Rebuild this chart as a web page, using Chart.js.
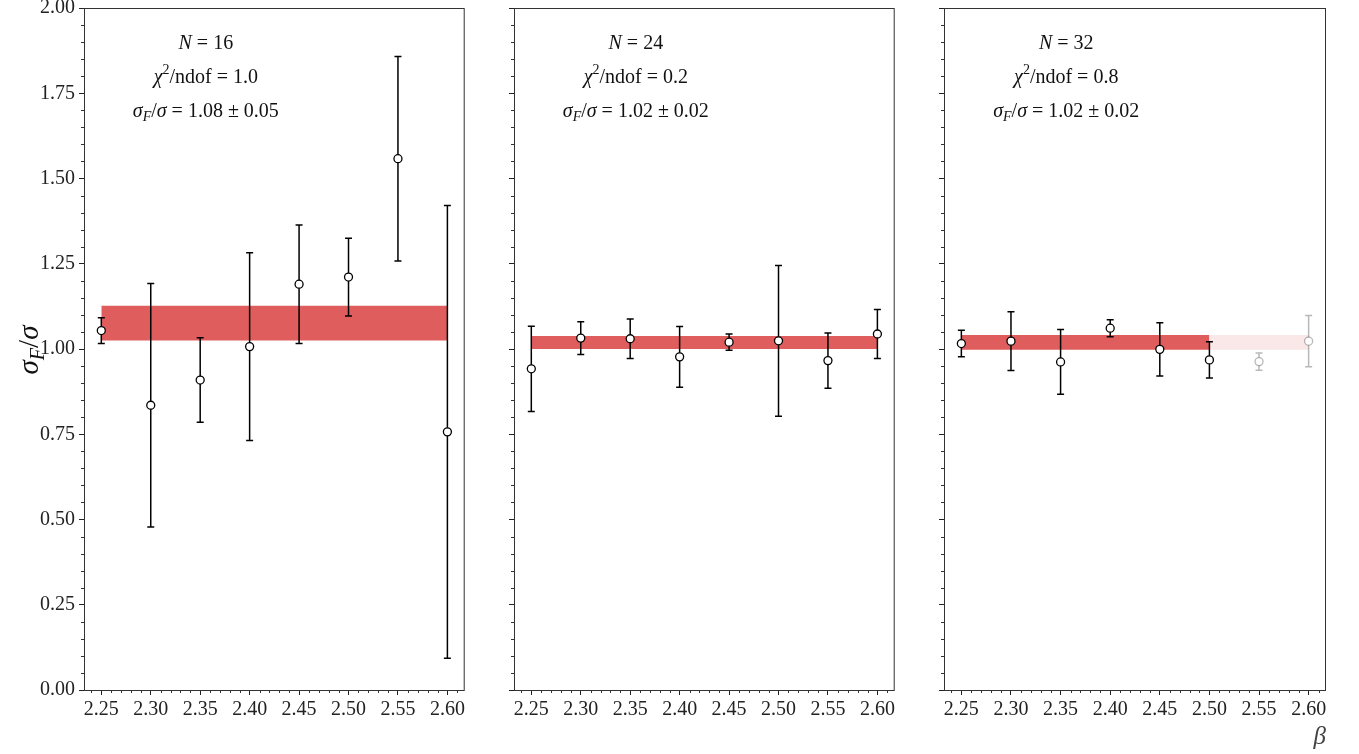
<!DOCTYPE html>
<html>
<head>
<meta charset="utf-8">
<script src="https://cdn.jsdelivr.net/npm/chart.js@4.4.1/dist/chart.umd.min.js"></script>
<style>
  html, body { margin: 0; padding: 0; background: #fff; }
  #wrap { position: relative; width: 1359px; height: 754px; overflow: hidden; }
  #wrap canvas { position: absolute; top: 0; }
</style>
</head>
<body>
<div id="wrap">
  <canvas id="p16" style="left:0px" width="470" height="754"></canvas>
  <canvas id="p24" style="left:500px" width="400" height="754"></canvas>
  <canvas id="p32" style="left:930px" width="429" height="754"></canvas>
</div>
<script>
// ---------- data ----------
const betas = [2.25, 2.30, 2.35, 2.40, 2.45, 2.50, 2.55, 2.60];
const xTicks = [2.25, 2.30, 2.35, 2.40, 2.45, 2.50, 2.55, 2.60];
const yTicks = [0, 0.25, 0.5, 0.75, 1.0, 1.25, 1.5, 1.75, 2.0];

const ratioN16 = [1.054, 0.835, 0.909, 1.007, 1.190, 1.211, 1.558, 0.757];
const errN16   = [0.038, 0.357, 0.124, 0.275, 0.174, 0.114, 0.300, 0.664];
const ratioN24 = [0.942, 1.032, 1.030, 0.977, 1.020, 1.024, 0.966, 1.044];
const errN24   = [0.125, 0.048, 0.058, 0.089, 0.024, 0.221, 0.081, 0.072];
const ratioN32 = [1.016, 1.023, 0.962, 1.061, 0.999, 0.968, 0.963, 1.023];
const errN32   = [0.039, 0.086, 0.095, 0.025, 0.078, 0.053, 0.025, 0.075];

// fit bands [low, high] and the last beta used in the fit
const bandN16 = [1.025, 1.127];
const bandN24 = [1.000, 1.038];
const bandN32 = [0.998, 1.041];
const fitEndN16 = 2.60;
const fitEndN24 = 2.60;
const fitEndN32 = 2.50;

const chi2Labels  = ["1.0", "0.2", "0.8"];
const ratioLabels = ["1.08 \u00b1 0.05", "1.02 \u00b1 0.02", "1.02 \u00b1 0.02"];

const SERIF = '"Liberation Serif", "DejaVu Serif", serif';
const BAND_RED = "rgba(214, 39, 40, 0.75)";
const BAND_FADED = "rgba(214, 39, 40, 0.11)";

// ---------- helpers ----------
// runs: [text, kind]  kind: r = roman, i = italic, sub = italic subscript, sup = roman superscript
function drawRuns(ctx, runs, cx, cy, size) {
  const fontFor = k => {
    const s = (k === "sub" || k === "sup") ? Math.round(size * 0.7) : size;
    const it = (k === "i" || k === "sub") ? "italic " : "";
    return it + s + "px " + SERIF;
  };
  let total = 0;
  const widths = runs.map(([t, k]) => {
    ctx.font = fontFor(k);
    const w = ctx.measureText(t).width;
    total += w;
    return w;
  });
  let x = cx - total / 2;
  const base = cy + size * 0.33;
  ctx.textAlign = "left";
  ctx.textBaseline = "alphabetic";
  ctx.fillStyle = "#111";
  runs.forEach(([t, k], i) => {
    ctx.font = fontFor(k);
    let y = base;
    if (k === "sub") y += size * 0.22;
    if (k === "sup") y -= size * 0.42;
    ctx.fillText(t, x, y);
    x += widths[i];
  });
}

function bandData(x0, x1, v) {
  return [{ x: x0, y: v }, { x: x1, y: v }];
}

function makePanel(id, size, values, errors, band, fitEnd, idx, opt) {
  const points = betas.map((b, i) => ({ x: b, y: values[i] }));
  const inFit = i => betas[i] <= fitEnd + 1e-9;

  const datasets = [
    {
      type: "scatter",
      data: points,
      order: 0,
      pointRadius: 4,
      pointHoverRadius: 4,
      pointBorderWidth: 1.3,
      pointBackgroundColor: "#fff",
      pointBorderColor: ctx => inFit(ctx.dataIndex) ? "#000" : "rgba(0,0,0,0.28)"
    },
    {
      type: "line", data: bandData(2.25, fitEnd, band[1]), order: 2,
      borderWidth: 0, pointRadius: 0, fill: false
    },
    {
      type: "line", data: bandData(2.25, fitEnd, band[0]), order: 1,
      borderWidth: 0, pointRadius: 0, fill: "-1", backgroundColor: BAND_RED
    }
  ];
  if (fitEnd < 2.60) {
    datasets.push(
      { type: "line", data: bandData(fitEnd, 2.60, band[1]), order: 4,
        borderWidth: 0, pointRadius: 0, fill: false },
      { type: "line", data: bandData(fitEnd, 2.60, band[0]), order: 3,
        borderWidth: 0, pointRadius: 0, fill: "-1", backgroundColor: BAND_FADED }
    );
  }

  const panelPlugin = {
    id: "panelDecor",
    beforeDatasetDraw(chart, args) {
      if (args.index !== 0) return;
      // error bars, under the markers
      const ctx = chart.ctx;
      const xs = chart.scales.x, ys = chart.scales.y;
      ctx.save();
      ctx.lineWidth = 1.5;
      betas.forEach((b, i) => {
        const px = xs.getPixelForValue(b);
        const top = ys.getPixelForValue(values[i] + errors[i]);
        const bot = ys.getPixelForValue(values[i] - errors[i]);
        ctx.strokeStyle = inFit(i) ? "#000" : "rgba(0,0,0,0.28)";
        ctx.beginPath();
        ctx.moveTo(px, top); ctx.lineTo(px, bot);
        ctx.moveTo(px - 3.5, top); ctx.lineTo(px + 3.5, top);
        ctx.moveTo(px - 3.5, bot); ctx.lineTo(px + 3.5, bot);
        ctx.stroke();
      });
      ctx.restore();
    },
    afterDraw(chart) {
      const ctx = chart.ctx;
      const a = chart.chartArea;
      const xs = chart.scales.x, ys = chart.scales.y;
      ctx.save();
      // frame
      ctx.strokeStyle = "#333";
      ctx.lineWidth = 1;
      ctx.strokeRect(a.left + 0.5, a.top + 0.5, a.right - a.left - 1, a.bottom - a.top);
      // minor ticks
      ctx.beginPath();
      for (let k = 224; k <= 261; k++) {
        if (k % 5 === 0) continue;
        const px = Math.round(xs.getPixelForValue(k / 100)) + 0.5;
        if (px < a.left || px > a.right) continue;
        ctx.moveTo(px, a.bottom); ctx.lineTo(px, a.bottom + 3);
      }
      for (let k = 0; k <= 40; k++) {
        if (k % 5 === 0) continue;
        const py = Math.round(ys.getPixelForValue(k * 0.05)) + 0.5;
        ctx.moveTo(a.left, py); ctx.lineTo(a.left - 3, py);
      }
      ctx.stroke();
      // annotation block
      const cx = a.left + (a.right - a.left) * 0.32;
      drawRuns(ctx, [["N", "i"], [" = " + size, "r"]], cx, 42, 20);
      drawRuns(ctx, [["\u03c7", "i"], ["2", "sup"], ["/ndof = " + chi2Labels[idx], "r"]], cx, 76, 20);
      drawRuns(ctx, [["\u03c3", "i"], ["F", "sub"], ["/", "r"], ["\u03c3", "i"],
                     [" = " + ratioLabels[idx], "r"]], cx, 110, 20);
      if (opt.yTitle) {
        ctx.translate(28, 350);
        ctx.rotate(-Math.PI / 2);
        drawRuns(ctx, [["\u03c3", "i"], ["F", "sub"], ["/", "r"], ["\u03c3", "i"]], 0, 0, 29);
      }
      ctx.restore();
    }
  };

  return new Chart(document.getElementById(id), {
    data: { datasets },
    options: {
      responsive: false,
      animation: false,
      devicePixelRatio: 1,
      layout: { padding: { left: 0, top: 8, right: opt.padRight, bottom: 0 } },
      plugins: { legend: { display: false }, tooltip: { enabled: false } },
      scales: {
        x: {
          type: "linear",
          min: 2.2325,
          max: 2.6175,
          afterBuildTicks: s => { s.ticks = xTicks.map(v => ({ value: v })); },
          afterFit: s => { s.height = 64; s.paddingLeft = 0; s.paddingRight = 0; },
          border: { display: false },
          grid: { drawOnChartArea: false, drawTicks: true, tickLength: 5, color: "#222" },
          ticks: {
            padding: 3,
            maxRotation: 0,
            color: "#222",
            font: { family: SERIF, size: 20 },
            callback: v => Number(v).toFixed(2)
          },
          title: {
            display: !!opt.xTitle,
            text: "\u03b2",
            align: "end",
            color: "#444",
            font: { family: SERIF, size: 25, style: "italic" },
            padding: { top: 0, bottom: 2 }
          }
        },
        y: {
          type: "linear",
          min: 0,
          max: 2,
          afterBuildTicks: s => { s.ticks = yTicks.map(v => ({ value: v })); },
          afterFit: s => { s.width = opt.yWidth; s.paddingTop = 0; s.paddingBottom = 0; },
          border: { display: false },
          grid: { drawOnChartArea: false, drawTicks: true, tickLength: 5, color: "#222" },
          ticks: {
            display: !!opt.yLabels,
            padding: 4,
            color: "#222",
            font: { family: SERIF, size: 20 },
            callback: v => Number(v).toFixed(2)
          }
        }
      }
    },
    plugins: [panelPlugin]
  });
}

makePanel("p16", 16, ratioN16, errN16, bandN16, fitEndN16, 0,
  { yWidth: 84, padRight: 5, yLabels: true, yTitle: true });
makePanel("p24", 24, ratioN24, errN24, bandN24, fitEndN24, 1,
  { yWidth: 14, padRight: 5 });
makePanel("p32", 32, ratioN32, errN32, bandN32, fitEndN32, 2,
  { yWidth: 14, padRight: 33, xTitle: true });
</script>
</body>
</html>
